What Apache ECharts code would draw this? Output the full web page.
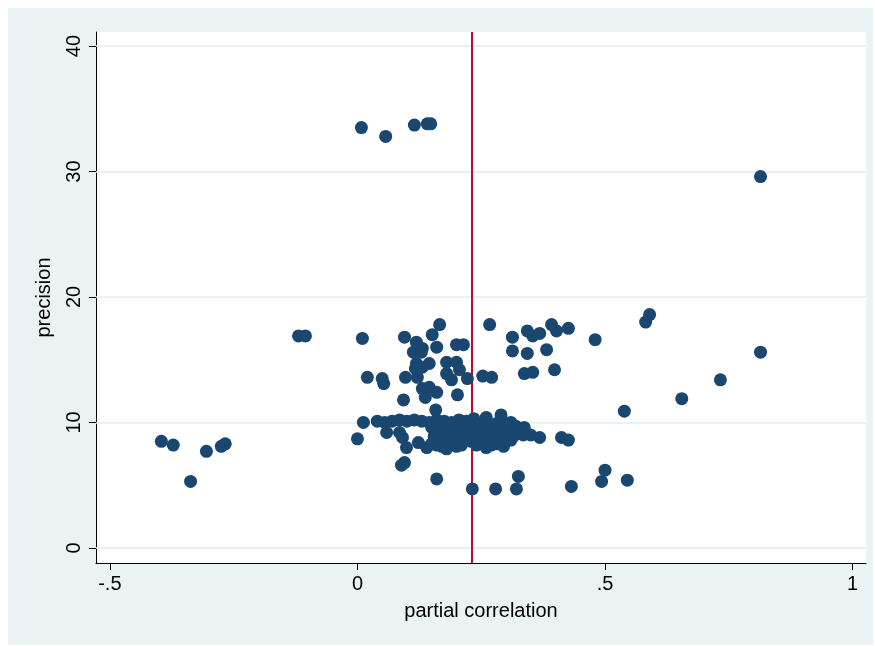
<!DOCTYPE html>
<html>
<head>
<meta charset="utf-8">
<script src="https://cdn.jsdelivr.net/npm/echarts@6/dist/echarts.min.js"></script>
<style>
html, body { margin: 0; padding: 0; background: #fff; }
#chart { width: 875px; height: 646px; }
</style>
</head>
<body>
<div id="chart"></div>
<script>
// partial correlation (x) vs precision (y)
const pcor = [
  0.008, 0.057, 0.115, 0.141, 0.148, 0.814, 0.814, 0.733, 0.655, 0.539,
  0.590, 0.582, 0.480, 0.500, 0.493, 0.545, 0.432, 0.325, 0.321, 0.279,
  0.232, 0.160, 0.095, 0.089, -0.396, -0.372, -0.305, -0.275, -0.267, -0.337,
  -0.119, -0.105, 0.010, 0.000, 0.012, 0.020, 0.050, 0.053,
  0.095, 0.166, 0.151, 0.119, 0.131, 0.113, 0.129, 0.160, 0.200, 0.214,
  0.267, 0.313, 0.343, 0.354, 0.368, 0.392, 0.402, 0.426, 0.313, 0.343, 0.382,
  0.119, 0.117, 0.131, 0.145, 0.180, 0.200, 0.121, 0.097, 0.180, 0.190,
  0.206, 0.222, 0.253, 0.271, 0.337, 0.354, 0.398,
  0.131, 0.145, 0.160, 0.137, 0.202, 0.093, 0.158,
  0.040, 0.055, 0.070, 0.085, 0.100, 0.115, 0.130, 0.145, 0.160, 0.175, 0.190, 0.205, 0.220, 0.235,
  0.059, 0.085, 0.091, 0.099, 0.123, 0.260, 0.290, 0.310, 0.337, 0.368, 0.412, 0.426,
  0.150, 0.160, 0.170, 0.180, 0.190, 0.200, 0.210, 0.220, 0.230, 0.240, 0.250, 0.260, 0.270, 0.280, 0.290, 0.300, 0.310, 0.320,
  0.155, 0.175, 0.195, 0.215, 0.235, 0.255, 0.275, 0.295, 0.315, 0.335,
  0.150, 0.170, 0.190, 0.210, 0.230, 0.250, 0.270, 0.290, 0.310,
  0.165, 0.185, 0.205, 0.225, 0.245, 0.265, 0.285, 0.300, 0.325, 0.350,
  0.140, 0.160, 0.180, 0.200, 0.240, 0.260, 0.280, 0.295
]
const precision = [
  33.5, 32.8, 33.7, 33.8, 33.8, 29.6, 15.6, 13.4, 11.9, 10.9,
  18.6, 18.0, 16.6, 6.2, 5.3, 5.4, 4.9, 5.7, 4.7, 4.7,
  4.7, 5.5, 6.8, 6.6, 8.5, 8.2, 7.7, 8.1, 8.3, 5.3,
  16.9, 16.9, 16.7, 8.7, 10.0, 13.6, 13.5, 13.1,
  16.8, 17.8, 17.0, 16.4, 15.9, 15.6, 15.6, 16.0, 16.2, 16.2,
  17.8, 16.8, 17.3, 16.9, 17.1, 17.8, 17.3, 17.5, 15.7, 15.5, 15.8,
  14.7, 14.3, 14.4, 14.7, 14.8, 14.8, 13.6, 13.6, 13.9, 13.4,
  14.2, 13.5, 13.7, 13.6, 13.9, 14.0, 14.2,
  12.7, 12.8, 12.4, 12.0, 12.2, 11.8, 11.0,
  10.1, 10.0, 10.1, 10.2, 10.1, 10.2, 10.1, 10.0, 10.2, 10.1, 10.0, 10.2, 10.1, 10.3,
  9.2, 9.2, 8.8, 8.0, 8.4, 10.4, 10.6, 10.0, 9.6, 8.8, 8.8, 8.6,
  9.6, 9.3, 9.7, 9.4, 9.8, 9.5, 9.2, 9.7, 9.9, 9.4, 9.8, 10.1, 9.5, 9.9, 10.3, 9.6, 9.3, 9.7,
  8.9, 8.7, 9.0, 8.8, 8.6, 9.0, 8.7, 9.1, 8.9, 9.0,
  8.3, 8.1, 8.4, 8.2, 8.5, 8.3, 8.2, 8.4, 8.6,
  9.4, 9.1, 9.3, 9.5, 9.2, 9.1, 9.4, 9.8, 9.2, 9.0,
  8.0, 8.2, 7.9, 8.1, 8.2, 8.0, 8.3, 8.1
]
const xTicks = [-0.5, 0, 0.5, 1]
const xTickLabels = ['-.5', '0', '.5', '1']
const yTicks = [0, 10, 20, 30, 40]
const meanLine = 0.228

const points = pcor.map((x, i) => [x, precision[i]])
const font = 'Liberation Sans, Arial, sans-serif'

const chart = echarts.init(document.getElementById('chart'), null, { renderer: 'canvas' })

chart.setOption({
  animation: false,
  backgroundColor: '#fff',
  graphic: [{
    type: 'rect', z: -10, silent: true,
    shape: { x: 8, y: 8, width: 865, height: 637 },
    style: { fill: '#eaf2f3' }
  }],
  grid: {
    left: 96, right: 9, top: 32, bottom: 83,
    show: true, backgroundColor: '#fff', borderWidth: 0
  },
  xAxis: {
    type: 'value', min: -0.528, max: 1.027,
    name: 'partial correlation', nameLocation: 'middle', nameGap: 38,
    nameTextStyle: { color: '#000', fontSize: 20, fontFamily: font },
    axisLine: { onZero: false, lineStyle: { color: '#000', width: 1 } },
    axisTick: { customValues: xTicks, length: 7, lineStyle: { color: '#000' } },
    axisLabel: {
      customValues: xTicks, color: '#000', fontSize: 20, fontFamily: font, margin: 11,
      formatter: v => xTickLabels[xTicks.indexOf(v)] ?? ''
    },
    splitLine: { show: false }
  },
  yAxis: {
    type: 'value', min: -1.2, max: 41.12,
    name: 'precision', nameLocation: 'middle', nameGap: 42, nameRotate: 90,
    nameTextStyle: { color: '#000', fontSize: 20, fontFamily: font },
    axisLine: { onZero: false, lineStyle: { color: '#000', width: 1 } },
    axisTick: { customValues: yTicks, length: 7, lineStyle: { color: '#000' } },
    axisLabel: {
      customValues: yTicks, color: '#000', fontSize: 20, fontFamily: font,
      rotate: 90, margin: 12
    },
    splitLine: { show: false }
  },
  series: [{
    type: 'scatter',
    data: points,
    symbolSize: 13,
    itemStyle: { color: '#1a476f', opacity: 1 },
    markLine: {
      silent: true, symbol: 'none', label: { show: false },
      data: [
        ...yTicks.map(v => ({ yAxis: v, lineStyle: { color: '#e2ecef', width: 1.5, type: 'solid' } })),
        { xAxis: meanLine, lineStyle: { color: '#c10534', width: 2, type: 'solid' } }
      ],
      z: 1
    }
  }]
})
</script>
</body>
</html>
